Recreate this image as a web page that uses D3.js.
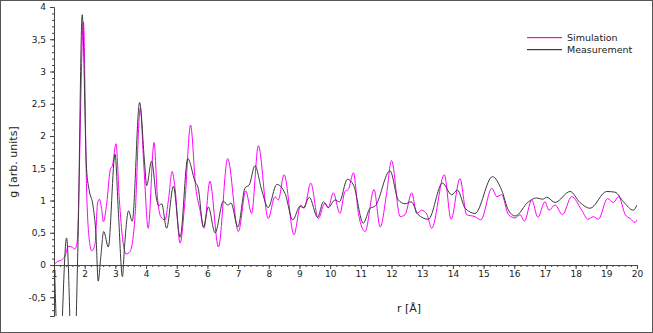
<!DOCTYPE html>
<html>
<head>
<meta charset="utf-8">
<script src="https://cdn.jsdelivr.net/npm/d3@7"></script>
<style>
  body { margin: 0; background: #fff; }
  text { font-family: "DejaVu Sans", sans-serif; fill: #222; }
</style>
</head>
<body>
<script>
// r values and g values
let simR = [1.00,1.09,1.25,1.36,1.47,1.58,1.68,1.75,1.96,2.06,2.15,2.23,2.34,2.42,2.48,2.55,2.61,2.72,2.83,2.91,3.02,3.13,3.24,3.35,3.48,3.64,3.81,3.93,4.07,4.26,4.37,4.48,4.62,4.73,4.85,4.94,5.11,5.27,5.45,5.62,5.76,5.89,6.08,6.36,6.66,7.01,7.25,7.44,7.66,7.98,8.20,8.31,8.50,8.82,9.04,9.15,9.37,9.61,9.83,9.94,10.10,10.32,10.48,10.59,10.76,10.92,11.14,11.43,11.63,11.84,12.00,12.28,12.44,12.66,12.82,12.98,13.15,13.31,13.72,13.94,14.23,14.45,14.72,14.91,15.27,15.43,15.59,15.81,16.03,16.19,16.33,16.57,16.77,17.00,17.13,17.33,17.57,17.87,18.20,18.40,18.58,18.74,19.04,19.23,19.40,19.62,19.78,19.94,20.00];
let simG = [0.00,0.05,0.08,0.14,0.29,0.28,0.25,0.34,3.77,1.21,0.39,0.22,0.34,0.96,1.02,0.88,0.67,0.96,1.47,1.55,1.88,1.01,0.39,0.17,0.21,0.75,2.43,1.52,0.57,1.90,1.06,0.75,0.70,1.01,1.45,1.21,0.34,1.01,2.17,1.20,0.85,0.57,1.30,0.28,1.65,0.52,1.15,0.80,1.85,0.72,1.06,1.01,1.40,0.47,0.93,0.88,1.27,0.72,0.96,0.89,1.12,0.80,1.14,1.17,1.43,0.80,0.52,1.17,0.59,1.11,1.62,0.75,0.78,1.12,0.80,0.85,0.79,0.57,1.40,0.71,1.34,0.78,0.75,0.70,1.19,1.06,1.09,0.78,0.73,0.78,0.68,1.01,0.74,0.98,0.85,0.93,0.78,1.06,0.85,0.71,0.75,0.71,1.03,0.97,1.06,0.78,0.72,0.66,0.70];

let measR = [1.00,1.17,1.41,1.62,1.78,1.92,2.06,2.15,2.26,2.37,2.44,2.52,2.62,2.77,2.99,3.10,3.23,3.30,3.43,3.55,3.79,3.95,4.02,4.18,4.35,4.41,4.51,4.67,4.89,5.11,5.36,5.60,5.70,5.87,6.03,6.25,6.52,6.66,6.77,6.99,7.23,7.36,7.55,7.77,7.98,8.26,8.53,8.78,9.02,9.13,9.32,9.59,9.78,9.94,10.16,10.30,10.56,10.76,11.08,11.30,11.46,11.95,12.22,12.44,12.64,12.87,13.20,13.66,13.96,14.15,14.40,14.72,15.29,15.59,15.81,16.03,16.46,16.73,16.92,17.06,17.33,17.82,18.14,18.47,19.01,19.28,19.56,19.88,20.00];
let measG = [0.23,-1.60,0.42,-2.00,0.30,3.88,1.50,1.15,0.95,0.45,-0.25,0.10,0.52,0.28,1.72,0.80,-0.18,0.30,0.84,0.68,2.52,1.60,1.23,1.61,1.00,0.92,0.95,0.57,1.22,0.43,1.65,1.29,1.19,0.59,0.90,0.50,0.99,0.93,0.96,0.59,1.20,1.24,1.54,1.16,0.89,1.25,1.11,0.70,0.91,0.89,1.05,0.74,0.98,0.89,1.01,0.98,1.33,1.24,0.65,0.88,0.91,1.46,1.01,0.95,0.98,0.78,0.71,1.27,1.09,1.16,0.88,0.80,1.37,1.16,0.85,0.76,0.98,1.04,1.02,1.05,0.97,1.14,0.97,0.88,1.14,1.13,0.98,0.85,0.93];

let yTicks = [-0.5, 0, 0.5, 1, 1.5, 2, 2.5, 3, 3.5, 4];
let xTicks = d3.range(1, 21);
let seriesNames = ["Simulation", "Measurement"];
let seriesColors = ["#ff00ff", "#3a3a3a"];

function init() {
  let svg = d3.select("body").append("svg")
    .attr("width", 653)
    .attr("height", 333)
    ;

  svg.append("rect")
    .attr("x", 0.5).attr("y", 0.5)
    .attr("width", 652).attr("height", 332)
    .attr("fill", "#fff")
    .attr("stroke", "#555")
    ;

  let x = d3.scaleLinear().domain([1, 20]).range([54, 637]);
  let y = d3.scaleLinear().domain([-0.79, 4]).range([316, 7]);

  svg.append("clipPath").attr("id", "plot")
    .append("rect")
      .attr("x", x(1)).attr("y", y(4))
      .attr("width", x(20) - x(1)).attr("height", y(-0.79) - y(4))
    ;

  let comma = d => String(d).replace(".", ",");

  // y axis: minor ticks every 0.1, labelled every 0.5
  let yMinor = svg.append("g")
    .attr("transform", `translate(${x(1)},0)`)
    .call(d3.axisLeft(y).tickValues(d3.range(-7, 41).map(d => d / 10)).tickSize(2).tickFormat(""))
    ;
  let yAxis = svg.append("g")
    .attr("transform", `translate(${x(1)},0)`)
    .call(d3.axisLeft(y).tickValues(yTicks).tickSize(4).tickPadding(4).tickFormat(comma))
    ;

  // x axis on g = 0, minor ticks every 0.2
  let xMinor = svg.append("g")
    .attr("transform", `translate(0,${y(0)})`)
    .call(d3.axisBottom(x).tickValues(d3.range(5, 101).map(d => d / 5)).tickSize(2).tickFormat(""))
    ;
  let xAxis = svg.append("g")
    .attr("transform", `translate(0,${y(0)})`)
    .call(d3.axisBottom(x).tickValues(xTicks).tickSize(4).tickPadding(2).tickFormat(d => d))
    ;

  [yMinor, yAxis, xMinor, xAxis].forEach(a => {
    a.select(".domain").attr("stroke", "#444");
    a.selectAll(".tick line").attr("stroke", "#444");
    a.selectAll("text").attr("font-size", 9).attr("font-family", "DejaVu Sans").attr("fill", "#222");
  });
  yMinor.select(".domain").remove();
  xMinor.select(".domain").remove();

  let line = d3.line()
    .x(d => x(d[0]))
    .y(d => y(d[1]))
    .curve(d3.curveMonotoneX)
    ;

  let sim = simR.map((r, i) => [r, simG[i]]);
  let meas = measR.map((r, i) => [r, measG[i]]);

  svg.append("g").attr("clip-path", "url(#plot)")
    .selectAll()
    .data([sim, meas])
    .enter()
      .append("path")
        .attr("d", line)
        .attr("fill", "none")
        .attr("stroke", (d, i) => seriesColors[i])
        .attr("stroke-width", 1)
    ;

  // legend, one row per series; the swatch is a thin filled rect
  let legend = svg.append("g").attr("class", "legend");
  seriesNames.forEach((name, i) => {
    legend.append("rect")
      .attr("x", 527).attr("y", 37 + i * 12)
      .attr("width", 35).attr("height", 1.2)
      .attr("fill", seriesColors[i])
      ;
    legend.append("text")
      .attr("x", 567).attr("y", 41 + i * 12)
      .attr("font-size", 9.5)
      .text(name)
      ;
  });

  svg.append("text")
    .attr("transform", `translate(17,162) rotate(-90)`)
    .attr("text-anchor", "middle")
    .attr("font-size", 11)
    .text("g [arb. units]")
    ;

  svg.append("text")
    .attr("x", 409).attr("y", 312)
    .attr("text-anchor", "middle")
    .attr("font-size", 11)
    .text("r [Å]")
    ;
}

init();
</script>
</body>
</html>
